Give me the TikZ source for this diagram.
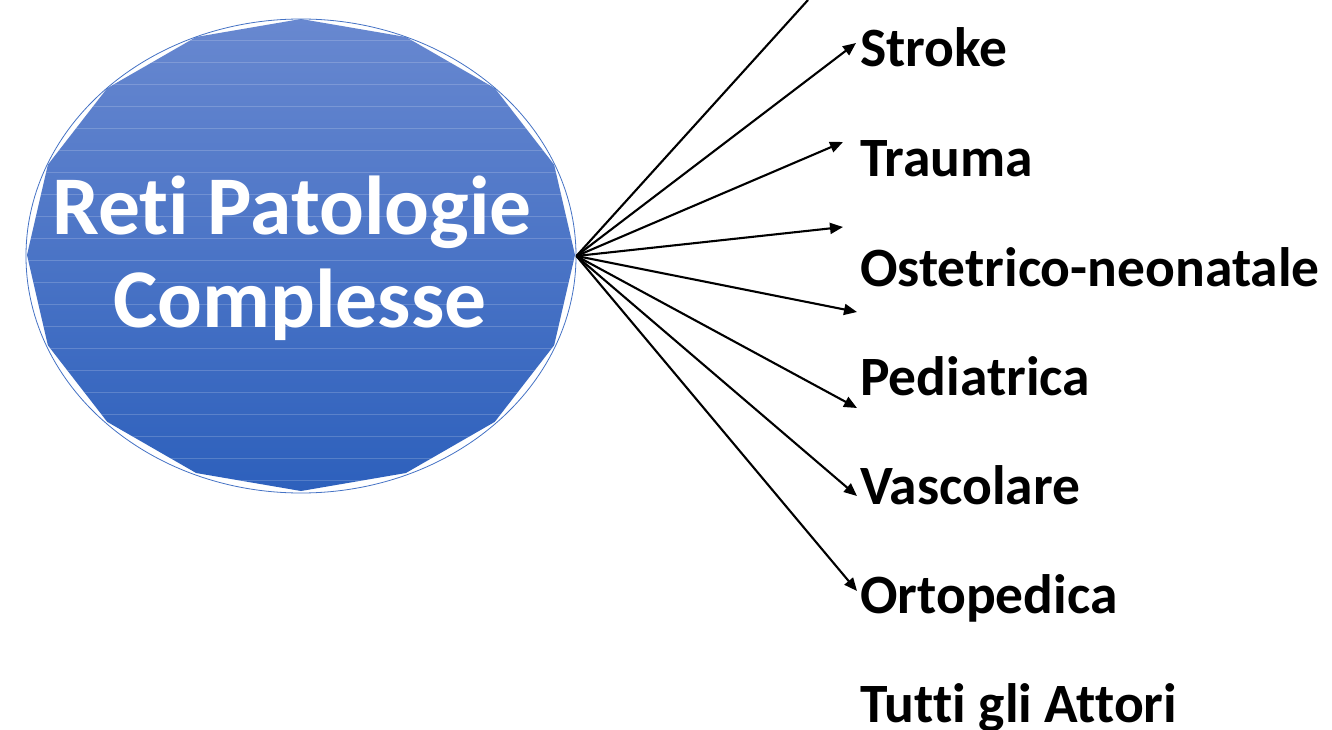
\documentclass[tikz,border=0pt]{standalone}
\usepackage{fontspec}
\setmainfont{Carlito}[Ligatures={NoCommon,NoContextual}]
\usetikzlibrary{arrows.meta,shapes.geometric}
\definecolor{elltop}{HTML}{6888D0}
\definecolor{ellbot}{HTML}{2D60BC}
\definecolor{ellline}{HTML}{4472C4}
\tikzset{
  lbl/.style={anchor=base west, inner sep=0pt, font=\fontsize{55.5}{60}\selectfont\bfseries, text=black},
  conn/.style={line width=2.1pt, black, -{Triangle[length=13pt,width=11pt]}},
  plainconn/.style={line width=2.1pt, black},
  title/.style={text=white, font=\fontsize{83.5}{93}\selectfont\bfseries, inner sep=0pt, anchor=base},
}
\begin{document}
\begin{tikzpicture}[x=1pt,y=-1pt]
\useasboundingbox (0,0) rectangle (1332,730);
% faceted ellipse fill
\def\cx{301}\def\cy{255}\def\rx{274}\def\ry{236}
\path[top color=elltop, bottom color=ellbot]
  plot[samples=17, domain=0:360, variable=\t] ({\cx+\rx*cos(\t)},{\cy-\ry*sin(\t)}) -- cycle;
\begin{scope}
  \clip plot[samples=17, domain=0:360, variable=\t] ({\cx+\rx*cos(\t)},{\cy-\ry*sin(\t)}) -- cycle;
  \foreach \yy in {40,62,84,106,128,150,172,194,216,238,260,282,304,326,348,370,392,414,436,458,480}
    \draw[white, opacity=0.18, line width=0.6pt] (0,\yy) -- (600,\yy);
\end{scope}
\node[ellipse, draw=ellline, line width=0.8pt, minimum width=550pt, minimum height=474pt, inner sep=0pt] (main) at (301,256) {};
\node[title] (t1) at (292,234) {Reti Patologie};
\node[title] (t2) at (300,327) {Complesse};
% labels
\node[lbl] (stroke) at (860,67) {Stroke};
\node[lbl] (trauma) at (860,177) {Trauma};
\node[lbl] (oste) at (860,286) {Ostetrico-neonatale};
\node[lbl] (pedi) at (860,395) {Pediatrica};
\node[lbl] (vasc) at (860,504) {Vascolare};
\node[lbl] (orto) at (860,613) {Ortopedica};
\node[lbl] (tutti) at (860,722) {Tutti gli Attori};
% connector ends
\coordinate (src) at (main.east);
\coordinate (e0) at (808,0);
\coordinate (e1) at (856,43);
\coordinate (e2) at (843,142);
\coordinate (e3) at (843,227);
\coordinate (e4) at (857,312);
\coordinate (e5) at (857,408);
\coordinate (e6) at (857,496);
\coordinate (e7) at (857,591);
\draw[plainconn] (src) -- (e0);
\foreach \e in {e1,e2,e3,e4,e5,e6,e7}
  \draw[conn] (src) -- (\e);
\end{tikzpicture}
\end{document}
